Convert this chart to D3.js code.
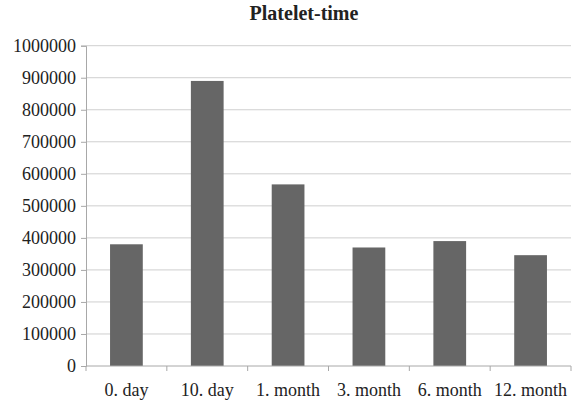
<!DOCTYPE html>
<html>
<head>
<meta charset="utf-8">
<script src="https://cdn.jsdelivr.net/npm/d3@7"></script>
<style>
  html, body { margin: 0; padding: 0; background: #fff; }
  svg { display: block; }
  svg text { font-family: "Liberation Serif", "Times New Roman", Times, serif; fill: #222; }
</style>
</head>
<body>
<script>
// Platelet counts over time
const categories = ["0. day", "10. day", "1. month", "3. month", "6. month", "12. month"];
const platelets = [380000, 890000, 567000, 370000, 390000, 346000];
const yTicks = [0, 100000, 200000, 300000, 400000, 500000, 600000, 700000, 800000, 900000, 1000000];
const title = "Platelet-time";

const W = 579, H = 402;
const margin = { left: 86, right: 8, top: 45.7, bottom: 36 };

const svg = d3.select("body").append("svg")
  .attr("width", W).attr("height", H);

const x = d3.scaleBand()
  .domain(categories)
  .range([margin.left, W - margin.right])
  .paddingInner(0.595)
  .paddingOuter(0.2975);

// full-width bands, used for the category boundary ticks
const xEdges = d3.scaleBand()
  .domain(categories)
  .range([margin.left, W - margin.right]);

const y = d3.scaleLinear()
  .domain([0, 1000000])
  .range([H - margin.bottom, margin.top]);

// horizontal gridlines
svg.append("g")
  .selectAll("line")
  .data(yTicks.filter(d => d > 0))
  .join("line")
  .attr("x1", margin.left).attr("x2", W - margin.right)
  .attr("y1", d => y(d)).attr("y2", d => y(d))
  .attr("stroke", "#cfcfcf").attr("stroke-width", 1);

// bars
svg.append("g")
  .selectAll("rect")
  .data(categories.map((c, i) => ({ c, v: platelets[i] })))
  .join("rect")
  .attr("x", d => x(d.c))
  .attr("width", x.bandwidth())
  .attr("y", d => y(d.v))
  .attr("height", d => y(0) - y(d.v))
  .attr("fill", "#666666");

// y axis
const yAxis = svg.append("g")
  .attr("transform", `translate(${margin.left},0)`)
  .call(d3.axisLeft(y).tickValues(yTicks).tickFormat(d3.format("d")).tickSize(5).tickPadding(5));
yAxis.attr("font-family", null).attr("font-size", null);
yAxis.select(".domain").attr("stroke", "#a8a8a8");
yAxis.selectAll(".tick line").attr("stroke", "#a8a8a8");
yAxis.selectAll("text").style("font-size", "18px").attr("fill", "#222");

// x axis with boundary ticks between categories
const boundaries = categories.map(c => xEdges(c)).concat([W - margin.right]);
const xg = svg.append("g").attr("transform", `translate(0,${y(0)})`);
xg.append("line")
  .attr("x1", margin.left).attr("x2", W - margin.right)
  .attr("stroke", "#a8a8a8");
xg.selectAll("line.tk")
  .data(boundaries)
  .join("line").attr("class", "tk")
  .attr("x1", d => d).attr("x2", d => d)
  .attr("y1", 0).attr("y2", 5)
  .attr("stroke", "#a8a8a8");
xg.selectAll("text")
  .data(categories)
  .join("text")
  .attr("x", d => x(d) + x.bandwidth() / 2)
  .attr("y", 30)
  .attr("text-anchor", "middle")
  .style("font-size", "18px")
  .text(d => d);

// title
svg.append("text")
  .attr("x", 304)
  .attr("y", 20)
  .attr("text-anchor", "middle")
  .style("font-size", "20px")
  .style("font-weight", "bold")
  .text(title);
</script>
</body>
</html>
